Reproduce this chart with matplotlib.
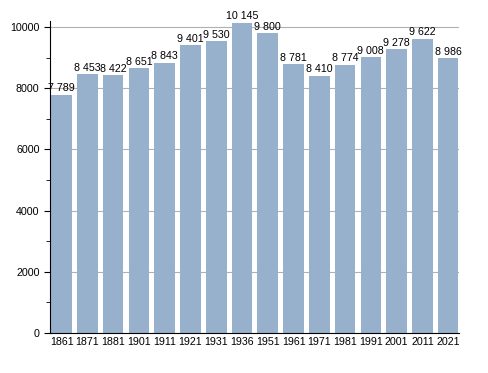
import numpy as np
import matplotlib.pyplot as plt

plt.rcParams['font.family'] = ['Liberation Sans', 'DejaVu Sans']

years = ['1861', '1871', '1881', '1901', '1911', '1921', '1931', '1936',
         '1951', '1961', '1971', '1981', '1991', '2001', '2011', '2021']
population = [7789, 8453, 8422, 8651, 8843, 9401, 9530, 10145,
              9800, 8781, 8410, 8774, 9008, 9278, 9622, 8986]


def fmt(v):
    # space as thousands separator
    return f"{v:,}".replace(',', ' ')


fig = plt.figure(figsize=(4.88, 3.73), dpi=100)
# axes box: x 50..459 px, y 21..333 px
ax = fig.add_axes([50 / 488, 40 / 373, 409 / 488, 312 / 373])

x = np.arange(len(years))
ax.bar(x, population, width=0.8, color='#97b1cc', zorder=2)
for xi, v in zip(x, population):
    ax.text(xi, v + 50, fmt(v), ha='center', va='bottom', fontsize=7.7,
            clip_on=False)

ax.set_xlim(-0.45, len(years) - 0.58)
ax.set_ylim(0, 10200)
ax.set_xticks(x)
ax.set_xticklabels(years, fontsize=7.7)
ax.tick_params(axis='x', length=0, pad=3)
ax.set_yticks([0, 2000, 4000, 6000, 8000, 10000])
ax.set_yticks(np.arange(1000, 10000, 2000), minor=True)
ax.tick_params(axis='y', which='major', length=4, labelsize=7.7)
ax.tick_params(axis='y', which='minor', length=3)
ax.grid(axis='y', which='major', color='#b0b0b0', linewidth=0.8, zorder=0)
ax.set_axisbelow(True)
for s in ['top', 'right']:
    ax.spines[s].set_visible(False)

fig.savefig('out.png', dpi=100)
